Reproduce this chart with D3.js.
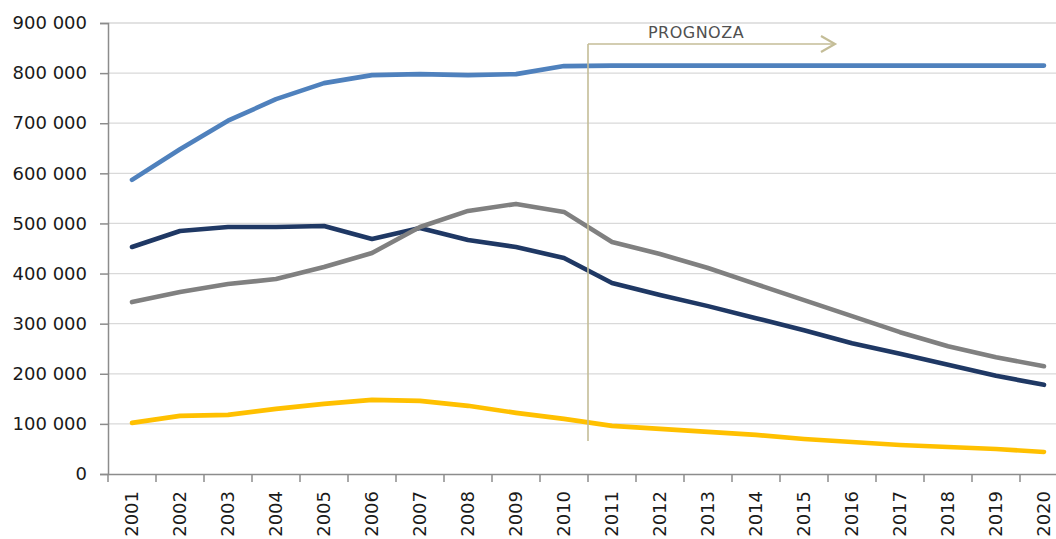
<!DOCTYPE html>
<html>
<head>
<meta charset="utf-8">
<script src="https://cdn.jsdelivr.net/npm/d3@7"></script>
<style>
  body { margin: 0; background: #fff; }
  svg text { font-family: "DejaVu Sans", Verdana, sans-serif; }
</style>
</head>
<body>
<div id="chart-area"></div>
<script>
// categories (years)
const years = ["2001","2002","2003","2004","2005","2006","2007","2008","2009","2010",
               "2011","2012","2013","2014","2015","2016","2017","2018","2019","2020"];

// series values
const seriesBlue   = [587000,648000,705000,748000,780000,796000,798000,796000,798000,814000,
                      815000,815000,815000,815000,815000,815000,815000,815000,815000,815000];
const seriesNavy   = [453000,485000,493000,493000,495000,469000,491000,467000,453000,431000,
                      381000,357000,335000,311000,287000,261000,240000,218000,196000,178000];
const seriesGray   = [343000,363000,379000,389000,413000,441000,493000,525000,539000,523000,
                      463000,439000,411000,379000,347000,315000,283000,255000,233000,215000];
const seriesYellow = [102000,116000,118000,130000,140000,148000,146000,136000,122000,110000,
                      96000,90000,84000,78000,70000,64000,58000,54000,50000,44000];

const yTicks = [0,100000,200000,300000,400000,500000,600000,700000,800000,900000];

// forecast annotation
const forecastLabel = "PROGNOZA";
const forecastStart = "2011";
const forecastEnd = "2016";

const series = [
  {values: seriesNavy,   color: "#1F3864"},
  {values: seriesGray,   color: "#808080"},
  {values: seriesYellow, color: "#FFC000"},
  {values: seriesBlue,   color: "#4F81BD"}
];

//margins
let margin = {left:108, top:23, right:-12, bottom:65};
let width = 1056 - margin.left - margin.right,
    height = 539 - margin.top - margin.bottom;

let svg = d3.select("#chart-area")
  .append("svg")
  .attr("width", 1056)
  .attr("height", 539);

let group = svg.append("g")
  .attr("transform", "translate(" + margin.left + ", " + margin.top + ")");

// x scale
let x = d3.scaleBand()
  .domain(years)
  .range([0, width]);

// y scale
let y = d3.scaleLinear()
  .domain([0, 900000])
  .range([height, 0]);

const fmt = v => d3.format(",")(v).replace(/,/g, " ");

// gridlines
group.append("g")
  .selectAll("line")
  .data(yTicks.slice(1))
  .enter()
  .append("line")
  .attr("x1", 0)
  .attr("x2", width)
  .attr("y1", d => y(d))
  .attr("y2", d => y(d))
  .attr("stroke", "#D9D9D9")
  .attr("stroke-width", 1.3);

// y axis
let yAxisCall = d3.axisLeft(y)
  .tickValues(yTicks)
  .tickSize(8)
  .tickPadding(13)
  .tickFormat(fmt);
let yAxis = group.append("g")
  .attr("class", "y axis")
  .call(yAxisCall);
yAxis.select(".domain").attr("stroke", "#8C8C8C").attr("stroke-width", 1.5);
yAxis.selectAll(".tick line").attr("stroke", "#8C8C8C").attr("stroke-width", 1.5);
yAxis.selectAll("text")
  .attr("font-size", "18px")
  .attr("fill", "#1a1a1a");

// x axis: ticks at band boundaries
let xAxisCall = d3.axisBottom(x).tickSize(0).tickPadding(0);
let xAxis = group.append("g")
  .attr("class", "x axis")
  .attr("transform", "translate(0, " + height + ")")
  .call(xAxisCall);
xAxis.select(".domain").attr("stroke", "#8C8C8C").attr("stroke-width", 1.5);
xAxis.selectAll("text")
  .attr("font-size", "18px")
  .attr("fill", "#1a1a1a")
  .attr("y", 0)
  .attr("x", -17)
  .attr("dy", "0.35em")
  .attr("text-anchor", "end")
  .attr("transform", "rotate(-90)");
xAxis.selectAll(".boundary")
  .data(years)
  .enter()
  .append("line")
  .attr("x1", d => x(d))
  .attr("x2", d => x(d))
  .attr("y1", 0)
  .attr("y2", 8)
  .attr("stroke", "#8C8C8C")
  .attr("stroke-width", 1.5);

// lines
let line = d3.line()
  .x((d, i) => x(years[i]) + x.bandwidth() / 2)
  .y(d => y(d));

group.selectAll(".series")
  .data(series)
  .enter()
  .append("path")
  .attr("class", "series")
  .attr("d", d => line(d.values))
  .attr("fill", "none")
  .attr("stroke", d => d.color)
  .attr("stroke-width", 4.6)
  .attr("stroke-linejoin", "round")
  .attr("stroke-linecap", "round");

// forecast annotation
let fx = x(forecastStart);
let fxEnd = x(forecastEnd) + 7;
let fy = 21;
let ann = group.append("g").attr("stroke", "#C4BD97").attr("fill", "none").attr("stroke-width", 1.6);
ann.append("line")
  .attr("x1", fx).attr("x2", fx)
  .attr("y1", fy).attr("y2", y(70000) + 2);
ann.append("line")
  .attr("x1", fx).attr("x2", fxEnd)
  .attr("y1", fy).attr("y2", fy);
ann.append("path")
  .attr("d", "M" + (fxEnd - 14) + "," + (fy - 8) + " L" + fxEnd + "," + fy + " L" + (fxEnd - 14) + "," + (fy + 8))
  .attr("stroke-width", 2.2);

group.append("text")
  .attr("x", (fx + x(forecastEnd)) / 2 - 12)
  .attr("y", fy - 6)
  .attr("text-anchor", "middle")
  .attr("font-size", "16px")
  .attr("letter-spacing", "0.5px")
  .attr("fill", "#505050")
  .text(forecastLabel);
</script>
</body>
</html>
